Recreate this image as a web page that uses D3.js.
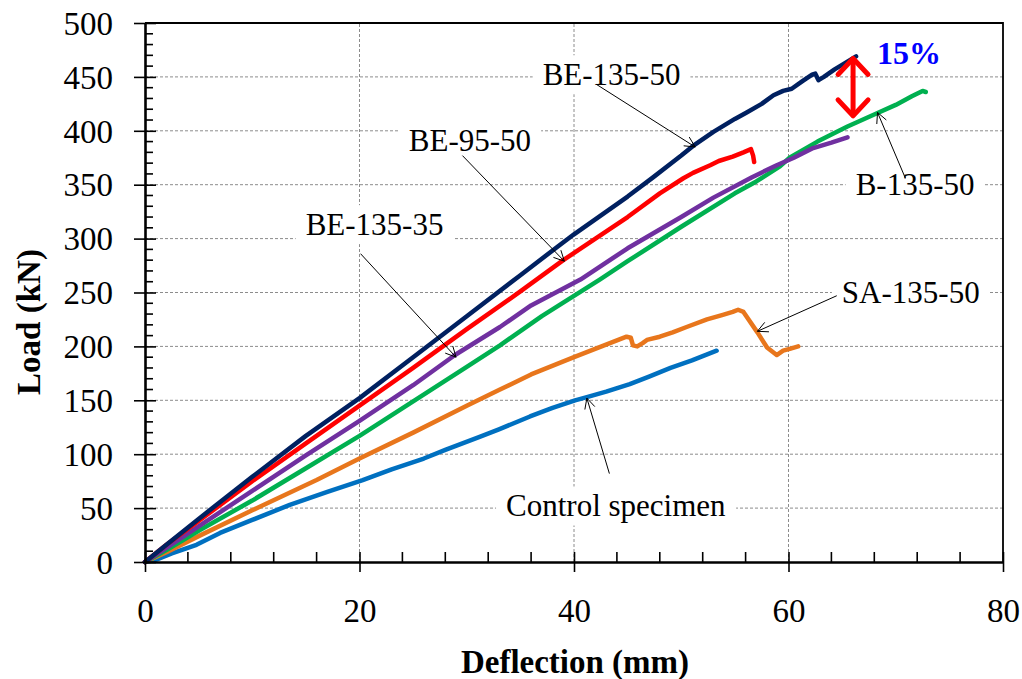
<!DOCTYPE html>
<html>
<head>
<meta charset="utf-8">
<script src="https://cdn.jsdelivr.net/npm/d3@7"></script>
<style>
  html, body { margin: 0; padding: 0; background: #fff; }
  svg { display: block; }
  text { font-family: "Liberation Serif", "Times New Roman", serif; }
</style>
</head>
<body>
<svg id="chart" width="1022" height="679"></svg>
<script>
// ---------- data (deflection mm, load kN) ----------
const xTicks = [0, 20, 40, 60, 80];
const yTicks = [0, 50, 100, 150, 200, 250, 300, 350, 400, 450, 500];

const be13550 = [[0,0],[2,16],[5,40],[10,79],[15,117],[20,152],[25,190],[30,228],[35,266],[38.4,292],[40,304],[45,339],[47.4,357],[50,377],[51.1,386],[53,399],[55,411],[56.1,417],[57.5,425],[58.6,433],[59.5,437],[60.3,439],[61.3,446],[62.2,452],[62.5,453],[62.8,447],[63.3,450],[64.3,457],[65.3,463],[66.3,469]];
const be9550 = [[0,0],[2,16],[5,38],[10,75],[15,110],[20,145],[25,180],[30,216],[35,251],[39,280],[42,300],[45,320],[48,342],[50.2,356],[51.1,361],[52.7,368],[53.5,372],[54.8,376],[55.8,380],[56.5,383],[56.7,377],[56.8,371]];
const be13535 = [[0,0],[2,13],[5,33],[10,66],[15,99],[20,131],[25,164],[28.9,192],[33.1,218],[36,238],[40.6,262],[45,291],[50,320],[53,338],[56.6,357],[58.9,368],[60.5,375],[62.3,384],[64,389],[65.5,394]];
const b13550 = [[0,0],[2,11],[5,29],[10,57],[15,87],[20,117],[25,149],[30,181],[33.1,201],[37,228],[42.4,262],[45,279],[50,311],[55,342],[57,353],[59.2,367],[60.1,375],[62.7,390],[65.5,404],[68.2,416],[70,424],[71.5,432],[72.5,437],[72.8,436]];
const sa13550 = [[0,0],[2,9],[5,24],[10,48],[16,76],[20,96],[25,120],[30,145],[33.1,160],[36,174],[40,190],[44.9,209],[45.3,208],[45.5,201],[45.9,200],[46.4,203],[46.8,206],[48,209],[49.2,213],[50.5,218],[52.4,225],[53.8,229],[54.8,232],[55.3,234],[55.8,232],[57.1,213],[58,199],[58.9,192],[59.5,196],[60.2,198],[60.9,200]];
const control = [[0,0],[1,2],[2.5,8],[4.8,16],[7,27],[10,39],[13.5,53],[17,65],[20.3,76],[23,86],[26,96],[28,104],[31.2,116],[33,123],[35.9,135],[38,143],[40.1,150],[41.2,153],[43,158],[45.2,165],[47,172],[49,180],[51,187],[53.3,196]];

const seriesNames = ["Control specimen","SA-135-50","B-135-50","BE-135-35","BE-95-50","BE-135-50"];
const seriesData  = [control, sa13550, b13550, be13535, be9550, be13550];
const seriesColors = ["#0070c0","#e8761c","#00b050","#7030a0","#ff0000","#002060"];

// label text, label centre (data units), arrow tail, arrow tip (data units)
const labelNames = ["BE-135-50","BE-95-50","BE-135-35","Control specimen","B-135-50","SA-135-50"];
const labelPos   = [[43.5,452],[30.3,391],[21.4,313],[43.9,52],[71.8,350],[71.4,250]];
const arrowFrom  = [[42.1,443],[29.6,377],[20.1,286],[43.3,82],[70.9,356],[64.5,247]];
const arrowTo    = [[51.3,385],[39.1,279],[29.0,190],[41.2,152],[68.3,417],[57.1,214]];

const diffLabel = "15%";
const diffX = 66.3, diffTop = 469, diffBottom = 412;

// ---------- layout ----------
const svg = d3.select("#chart");
const x = d3.scaleLinear().domain([0, 80]).range([145, 1003]);
const y = d3.scaleLinear().domain([0, 500]).range([562, 23]);

// grid
const grid = svg.append("g");
grid.selectAll("line.v").data(xTicks.filter(d => d > 0 && d < 80)).join("line")
  .attr("x1", d => x(d)).attr("x2", d => x(d)).attr("y1", y(0)).attr("y2", y(500))
  .attr("stroke", "#8c8c8c").attr("stroke-width", 1).attr("stroke-dasharray", "3,2");
grid.selectAll("line.h").data(yTicks.filter(d => d > 0 && d < 500)).join("line")
  .attr("x1", x(0)).attr("x2", x(80)).attr("y1", d => y(d)).attr("y2", d => y(d))
  .attr("stroke", "#8c8c8c").attr("stroke-width", 1).attr("stroke-dasharray", "3,2");

// frame (top & right)
svg.append("path")
  .attr("d", `M${x(0)},${y(500)}H${x(80)}V${y(0)}`)
  .attr("fill", "none").attr("stroke", "#000").attr("stroke-width", 1.8);

// series
const line = d3.line().x(d => x(d[0])).y(d => y(d[1]));
svg.append("g").selectAll("path").data(seriesData).join("path")
  .attr("d", d => line(d))
  .attr("fill", "none")
  .attr("stroke", (d, i) => seriesColors[i])
  .attr("stroke-width", 4.5)
  .attr("stroke-linejoin", "round")
  .attr("stroke-linecap", "round");

// axes
const xAxis = d3.axisBottom(x).tickValues(xTicks).tickSizeInner(0).tickSizeOuter(0).tickPadding(0);
const yAxis = d3.axisLeft(y).tickValues(yTicks).tickSizeInner(0).tickSizeOuter(0).tickPadding(0);
const gx = svg.append("g").attr("transform", `translate(0,${y(0)})`).call(xAxis);
const gy = svg.append("g").attr("transform", `translate(${x(0)},0)`).call(yAxis);
gx.select(".domain").attr("stroke", "#000").attr("stroke-width", 2.6);
gy.select(".domain").attr("stroke", "#000").attr("stroke-width", 2.6);
gx.selectAll(".tick text").attr("y", 60).attr("dy", 0)
  .attr("font-family", "Liberation Serif").attr("font-size", 33).attr("fill", "#000");
gy.selectAll(".tick text").attr("x", -32).attr("dy", "0.34em")
  .attr("font-family", "Liberation Serif").attr("font-size", 33).attr("fill", "#000");
// major ticks crossing the axis
gx.selectAll(".tick").append("line").attr("y1", -10).attr("y2", 10).attr("stroke", "#000").attr("stroke-width", 1.6);
gy.selectAll(".tick").append("line").attr("x1", -11).attr("x2", 11).attr("stroke", "#000").attr("stroke-width", 1.6);
// minor ticks (inside)
const xMinor = d3.range(0, 81, 4).filter(v => v % 20 !== 0);
const yMinor = d3.range(0, 501, 10).filter(v => v % 50 !== 0);
svg.append("g").selectAll("line").data(xMinor).join("line")
  .attr("x1", d => x(d)).attr("x2", d => x(d)).attr("y1", y(0)).attr("y2", y(0) - 10)
  .attr("stroke", "#000").attr("stroke-width", 1.6);
svg.append("g").selectAll("line").data(yMinor).join("line")
  .attr("x1", x(0)).attr("x2", x(0) + 8).attr("y1", d => y(d)).attr("y2", d => y(d))
  .attr("stroke", "#000").attr("stroke-width", 1.6);

// axis titles
svg.append("text").attr("x", 575).attr("y", 673).attr("text-anchor", "middle")
  .attr("font-size", 33).attr("font-weight", "bold").text("Deflection (mm)");
svg.append("text").attr("transform", "translate(40,322) rotate(-90)").attr("text-anchor", "middle")
  .attr("font-size", 33).attr("font-weight", "bold").text("Load (kN)");

// annotation labels and arrows
function arrowHead(g, x1, y1, x2, y2, len, half, color, width) {
  const a = Math.atan2(y2 - y1, x2 - x1);
  const p1 = [x2 - len * Math.cos(a) + half * Math.sin(a), y2 - len * Math.sin(a) - half * Math.cos(a)];
  const p2 = [x2 - len * Math.cos(a) - half * Math.sin(a), y2 - len * Math.sin(a) + half * Math.cos(a)];
  g.append("path").attr("d", `M${p1[0]},${p1[1]}L${x2},${y2}L${p2[0]},${p2[1]}`)
    .attr("fill", "none").attr("stroke", color).attr("stroke-width", width)
    .attr("stroke-linecap", "round").attr("stroke-linejoin", "round");
}
const ann = svg.append("g");
labelNames.forEach((name, i) => {
  const cx = x(labelPos[i][0]), cy = y(labelPos[i][1]);
  const t = ann.append("text").attr("x", cx).attr("y", cy).attr("dy", "0.34em")
    .attr("text-anchor", "middle").attr("font-size", 31).text(name);
  const bb = t.node().getBBox();
  ann.insert("rect", () => t.node()).attr("x", bb.x - 10).attr("y", bb.y - 2)
    .attr("width", bb.width + 20).attr("height", bb.height + 4).attr("fill", "#fff");
});
labelNames.forEach((name, i) => {
  const x1 = x(arrowFrom[i][0]), y1 = y(arrowFrom[i][1]);
  const x2 = x(arrowTo[i][0]), y2 = y(arrowTo[i][1]);
  ann.append("line").attr("x1", x1).attr("y1", y1).attr("x2", x2).attr("y2", y2)
    .attr("stroke", "#000").attr("stroke-width", 1);
  arrowHead(ann, x1, y1, x2, y2, 10, 5, "#000", 1);
});

// 15% difference arrow
const dx = x(diffX) - 3;
const dg = svg.append("g");
dg.append("line").attr("x1", dx).attr("x2", dx).attr("y1", y(diffTop) + 2).attr("y2", y(diffBottom) - 2)
  .attr("stroke", "#ff0000").attr("stroke-width", 5);
arrowHead(dg, dx, y(diffBottom), dx, y(diffTop) + 2, 16, 15, "#ff0000", 5);
arrowHead(dg, dx, y(diffTop), dx, y(diffBottom) - 2, 16, 15, "#ff0000", 5);
dg.append("text").attr("x", 877).attr("y", 64).attr("font-size", 32).attr("font-weight", "bold")
  .attr("fill", "#0000ff").text(diffLabel);
</script>
</body>
</html>
